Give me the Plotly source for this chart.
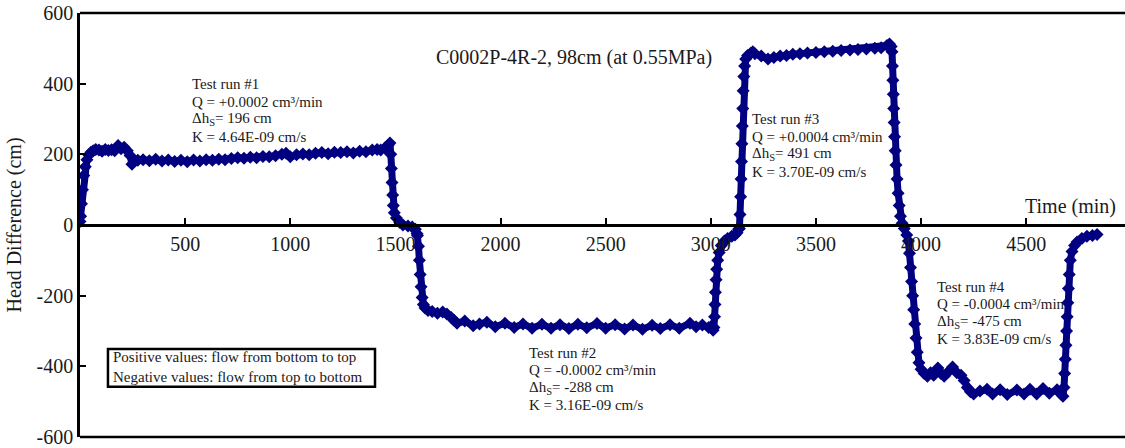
import plotly.graph_objects as go

# Head difference record for the four constant-flow test runs
time_min = [
    # run 1
    0, 3, 7, 12, 18, 25, 33, 42, 52, 63, 75, 90, 105, 120, 135, 150, 165, 181, 195, 210,
    225, 238, 247, 258, 275, 300, 330, 360, 390, 420, 450, 480, 510, 540, 570, 600, 630,
    660, 690, 720, 750, 780, 810, 840, 870, 900, 930, 960, 980, 1000, 1030, 1060, 1090,
    1120, 1150, 1180, 1210, 1240, 1270, 1300, 1330, 1360, 1390, 1413, 1430, 1450, 1465, 1474,
    # switch to run 2
    1478, 1481, 1484, 1487, 1490, 1495, 1505, 1520, 1536, 1560, 1580, 1595, 1603, 1605,
    1610, 1614, 1618, 1622, 1627, 1633, 1641, 1655, 1675, 1700, 1725, 1745, 1765, 1780,
    # run 2
    1793, 1830, 1870, 1900, 1935, 1975, 2021, 2065, 2107, 2150, 2197, 2240, 2283, 2325,
    2368, 2410, 2459, 2500, 2545, 2590, 2630, 2675, 2721, 2760, 2806, 2850, 2901, 2930,
    2960, 2990, 3005, 3011,
    # switch to run 3
    3015, 3018, 3020, 3022, 3025, 3028, 3033, 3040, 3050, 3065, 3080, 3100, 3115, 3125,
    3132, 3136, 3139, 3142, 3144, 3146, 3148, 3150, 3152, 3154, 3157, 3161, 3166, 3175,
    3190, 3200,
    # run 3
    3210, 3240, 3272, 3300, 3330, 3360, 3390, 3424, 3460, 3500, 3540, 3580, 3620, 3662,
    3700, 3740, 3780, 3810, 3838, 3850, 3858,
    # switch to run 4
    3862, 3864, 3866, 3868, 3870, 3872, 3874, 3877, 3881, 3886, 3891, 3896, 3902, 3910,
    3920, 3932, 3940, 3945, 3950, 3955, 3960, 3965, 3970, 3976, 3982, 3990, 4000,
    # run 4
    4015, 4030, 4045, 4060, 4080, 4095, 4110, 4130, 4150, 4170, 4190, 4205, 4220, 4235,
    4250, 4280, 4314, 4340, 4376, 4410, 4456, 4490, 4518, 4550, 4580, 4610, 4647, 4665,
    4675,
    # release
    4680, 4683, 4686, 4689, 4692, 4695, 4698, 4701, 4705, 4710, 4718, 4730, 4742, 4765,
    4789, 4815, 4837,
]

head_cm = [
    # run 1
    10, 25, 60, 100, 140, 165, 185, 198, 206, 210, 214, 212, 209, 214, 211, 213, 210, 225,
    216, 220, 210, 197, 172, 180, 183, 185, 182, 186, 181, 184, 180, 183, 179, 184, 181,
    185, 183, 186, 185, 188, 190, 189, 192, 190, 194, 193, 196, 200, 203, 193, 199, 201,
    199, 203, 205, 202, 206, 205, 207, 204, 209, 207, 212, 214, 212, 218, 225, 232,
    # switch to run 2
    200, 160, 120, 85, 55, 35, 20, 8, 0, -3, -6, -12, -25, -30,
    -60, -100, -140, -175, -205, -225, -235, -242, -245, -250, -246, -252, -262, -270,
    # run 2
    -278, -272, -285, -280, -275, -288, -278, -290, -280, -292, -281, -292, -282, -293,
    -281, -291, -279, -292, -282, -294, -283, -295, -284, -293, -282, -292, -278, -288,
    -283, -290, -285, -298,
    # switch to run 3
    -290, -260, -225, -190, -155, -125, -100, -78, -58, -45, -38, -32, -28, -22,
    -12, -10, 30, 80, 130, 180, 230, 280, 330, 380, 420, 450, 470, 480,
    486, 490,
    # run 3
    485, 478, 470, 474, 478, 480, 483, 485, 487, 488, 490, 492, 494, 495,
    497, 498, 500, 502, 508, 512, 505,
    # switch to run 4
    490, 450, 410, 370, 330, 290, 250, 210, 170, 130, 90, 55, 25, 5,
    -10, -28, -45, -80, -120, -160, -200, -240, -280, -320, -360, -390, -408,
    # run 4
    -420, -428, -418, -425, -405, -420, -428, -415, -402, -418, -425, -440, -460, -472,
    -478, -470, -465, -478, -466, -480, -467, -478, -465, -478, -463, -476, -466, -478,
    -485,
    # release
    -460, -420, -380, -340, -300, -260, -220, -180, -140, -100, -75, -58, -48, -38,
    -32, -30, -27,
]

x_ticks = [500, 1000, 1500, 2000, 2500, 3000, 3500, 4000, 4500]
x_tick_text = ["500", "1000", "1500", "2000", "2500", "3000", "3500", "4000", "4500"]
y_ticks = [-600, -400, -200, 0, 200, 400, 600]
y_tick_text = ["-600", "-400", "-200", "0", "200", "400", "600"]

run_labels = [
    ["Test run #1", "Q = +0.0002 cm³/min", "Δh<sub>S</sub>= 196 cm", "K = 4.64E-09 cm/s"],
    ["Test run #2", "Q = -0.0002 cm³/min", "Δh<sub>S</sub>= -288 cm", "K = 3.16E-09 cm/s"],
    ["Test run #3", "Q = +0.0004 cm³/min", "Δh<sub>S</sub>= 491 cm", "K = 3.70E-09 cm/s"],
    ["Test run #4", "Q = -0.0004 cm³/min", "Δh<sub>S</sub>= -475 cm", "K = 3.83E-09 cm/s"],
]
run_label_anchor = [(523, 399), (2126, -362), (3187, 300), (4066, -175)]

NAVY = "#000080"
SERIF = "Liberation Serif, Times New Roman, serif"
TXT = "#1a1a1a"

fig = go.Figure()
fig.add_trace(go.Scatter(
    x=time_min, y=head_cm, mode="lines+markers",
    line=dict(color=NAVY, width=7),
    marker=dict(symbol="diamond", size=10, color=NAVY, line=dict(width=0)),
    showlegend=False, hoverinfo="skip",
))

annotations = []
for lines, (ax, ay) in zip(run_labels, run_label_anchor):
    for i, txt in enumerate(lines):
        annotations.append(dict(
            x=ax, y=ay, xref="x", yref="y", text=txt, showarrow=False,
            xanchor="left", yanchor="middle", yshift=-17.5 * i,
            font=dict(family=SERIF, size=15, color=TXT),
        ))

annotations += [
    dict(x=2349, y=475, xref="x", yref="y", text="C0002P-4R-2, 98cm (at 0.55MPa)",
         showarrow=False, xanchor="center", yanchor="middle",
         font=dict(family=SERIF, size=20, color=TXT)),
    dict(x=4937, y=51, xref="x", yref="y", text="Time (min)", showarrow=False,
         xanchor="right", yanchor="middle", font=dict(family=SERIF, size=20, color=TXT)),
    dict(x=147, y=-402, xref="x", yref="y", align="left", showarrow=False,
         text="Positive values: flow from bottom to top<br>Negative values: flow from top to bottom",
         xanchor="left", yanchor="middle", font=dict(family=SERIF, size=15, color=TXT)),
]

shapes = [
    # frame lines along the top and bottom of the plotting area
    dict(type="line", xref="paper", yref="paper", x0=0, x1=1, y0=1, y1=1,
         line=dict(color="black", width=2.5)),
    dict(type="line", xref="paper", yref="paper", x0=0, x1=1, y0=0, y1=0,
         line=dict(color="black", width=2.5)),
    # note box on flow direction
    dict(type="rect", xref="x", yref="y", x0=133, x1=1403, y0=-458, y1=-351,
         line=dict(color="black", width=2.5), fillcolor="rgba(0,0,0,0)"),
]

fig.update_layout(
    width=1125, height=448,
    margin=dict(l=80, r=0, t=13, b=11),
    paper_bgcolor="white", plot_bgcolor="white",
    font=dict(family=SERIF, color=TXT),
    annotations=annotations, shapes=shapes,
    xaxis=dict(
        range=[0, 4970], anchor="free", position=0.5,
        tickvals=x_ticks, ticktext=x_tick_text,
        ticks="inside", ticklen=6, tickwidth=1.5, tickcolor="black",
        showline=True, linecolor="black", linewidth=2.5,
        showgrid=False, zeroline=False,
        tickfont=dict(family=SERIF, size=20, color=TXT),
    ),
    yaxis=dict(
        range=[-600, 600], tickvals=y_ticks, ticktext=y_tick_text,
        ticks="inside", ticklen=6, tickwidth=1.5,
        tickcolor="black", showline=True, linecolor="black", linewidth=2.5,
        showgrid=False, zeroline=False,
        tickfont=dict(family=SERIF, size=20, color=TXT),
        title=dict(text="Head Difference (cm)", standoff=10,
                   font=dict(family=SERIF, size=20, color=TXT)),
    ),
)

fig.write_html("out.html")
